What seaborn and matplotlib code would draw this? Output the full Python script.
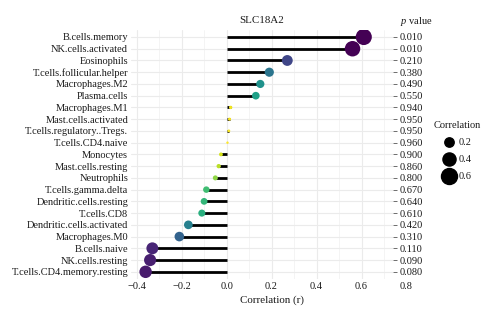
import matplotlib
matplotlib.use("Agg")
import matplotlib.pyplot as plt
import matplotlib.transforms as mtransforms
from matplotlib.lines import Line2D
import numpy as np
import pandas as pd
import seaborn as sns

cells = [
    "B.cells.memory", "NK.cells.activated", "Eosinophils", "T.cells.follicular.helper",
    "Macrophages.M2", "Plasma.cells", "Macrophages.M1", "Mast.cells.activated",
    "T.cells.regulatory..Tregs.", "T.cells.CD4.naive", "Monocytes", "Mast.cells.resting",
    "Neutrophils", "T.cells.gamma.delta", "Dendritic.cells.resting", "T.cells.CD8",
    "Dendritic.cells.activated", "Macrophages.M0", "B.cells.naive", "NK.cells.resting",
    "T.cells.CD4.memory.resting",
]
correlation = [
    0.61, 0.56, 0.27, 0.19, 0.15, 0.13, 0.018, 0.013, 0.010, 0.004,
    -0.025, -0.035, -0.05, -0.09, -0.10, -0.11, -0.17, -0.21, -0.33, -0.34, -0.36,
]
p_values = [
    0.010, 0.010, 0.210, 0.380, 0.490, 0.550, 0.940, 0.950, 0.950, 0.960,
    0.900, 0.860, 0.800, 0.670, 0.640, 0.610, 0.420, 0.310, 0.110, 0.090, 0.080,
]
gene = "SLC18A2"
legend_levels = [0.2, 0.4, 0.6]
x_ticks = [-0.4, -0.2, 0.0, 0.2, 0.4, 0.6]

df = pd.DataFrame({"cell": cells, "r": correlation, "p": p_values})
df["abs_r"] = df["r"].abs()
df["row"] = np.arange(len(df))

sns.set_theme(style="whitegrid")
plt.rcParams["font.family"] = ["Liberation Serif", "DejaVu Serif"]
plt.rcParams["mathtext.fontset"] = "custom"
plt.rcParams["mathtext.it"] = "Liberation Serif:italic"
plt.rcParams["mathtext.rm"] = "Liberation Serif"

fs = 7.5
ink = "#1a1a1a"

fig = plt.figure(figsize=(5, 3.22), dpi=100)
ax = fig.add_axes([0.262, 0.134, 0.524, 0.773])

size_range = (3, 135)
size_norm = (0.004, 0.61)
hue_norm = (0.01, 0.96)

# stems from zero to each correlation
ax.hlines(df["row"], 0, df["r"], color="black", lw=2.0, zorder=2)

sns.scatterplot(
    data=df, x="r", y="row", hue="p", size="abs_r",
    palette="viridis", hue_norm=hue_norm,
    sizes=size_range, size_norm=size_norm,
    edgecolor="none", linewidth=0, legend=False, ax=ax, zorder=3,
)

ax.set_xlim(-0.425, 0.74)
ax.set_ylim(len(df) - 0.4, -0.6)
ax.set_xticks(x_ticks)
ax.set_xticklabels([f"{t:.1f}".replace("-", "\u2212") for t in x_ticks])
ax.set_xticks(np.arange(-0.3, 0.75, 0.2), minor=True)
ax.set_yticks(df["row"])
ax.set_yticklabels(df["cell"])
ax.grid(True, which="major", color="#ebebeb", lw=0.8)
ax.grid(True, which="minor", axis="x", color="#f3f3f3", lw=0.6)
ax.set_axisbelow(True)
for s in ax.spines.values():
    s.set_visible(False)
ax.tick_params(axis="both", length=0, labelsize=fs, colors=ink, pad=2)
ax.set_xlabel("Correlation (r)", fontsize=fs + 0.4, color=ink)
ax.xaxis.set_label_coords(0.54, -0.065)
ax.set_ylabel("")
ax.set_title(gene, fontsize=fs + 0.4, color=ink, pad=5)

# trailing 0.8 label past the panel edge
trans = mtransforms.blended_transform_factory(ax.transData, ax.transAxes)
ax.text(0.8, -0.014, "0.8", transform=trans, ha="center", va="top",
        fontsize=fs, color=ink, clip_on=False)

# p values on the right axis
ax2 = ax.twinx()
ax2.set_ylim(ax.get_ylim())
ax2.set_yticks(df["row"])
ax2.set_yticklabels([f"{p:.3f}" for p in df["p"]])
ax2.tick_params(axis="y", length=3, width=0.6, colors="#555555", labelcolor=ink,
                labelsize=fs, pad=1.5)
ax2.grid(False)
for s in ax2.spines.values():
    s.set_visible(False)
fig.text(0.832, 0.932, "$p$ value", ha="center", va="center", fontsize=fs,
         color=ink)

# size legend
def pt_size(v):
    lo, hi = size_range
    return lo + (hi - lo) * (v - size_norm[0]) / (size_norm[1] - size_norm[0])

handles = [Line2D([], [], ls="none", marker="o", color="black",
                  markersize=np.sqrt(pt_size(v))) for v in legend_levels]
leg = fig.legend(handles, [f"{v:.1f}" for v in legend_levels], title="Correlation",
                 loc="center", bbox_to_anchor=(0.914, 0.53), frameon=False,
                 fontsize=fs, title_fontsize=fs, handletextpad=0.35,
                 labelspacing=0.75, handlelength=1.2)
for t in leg.get_texts():
    t.set_color(ink)
leg.get_title().set_color(ink)

fig.savefig("out.png", dpi=100, facecolor="white")
